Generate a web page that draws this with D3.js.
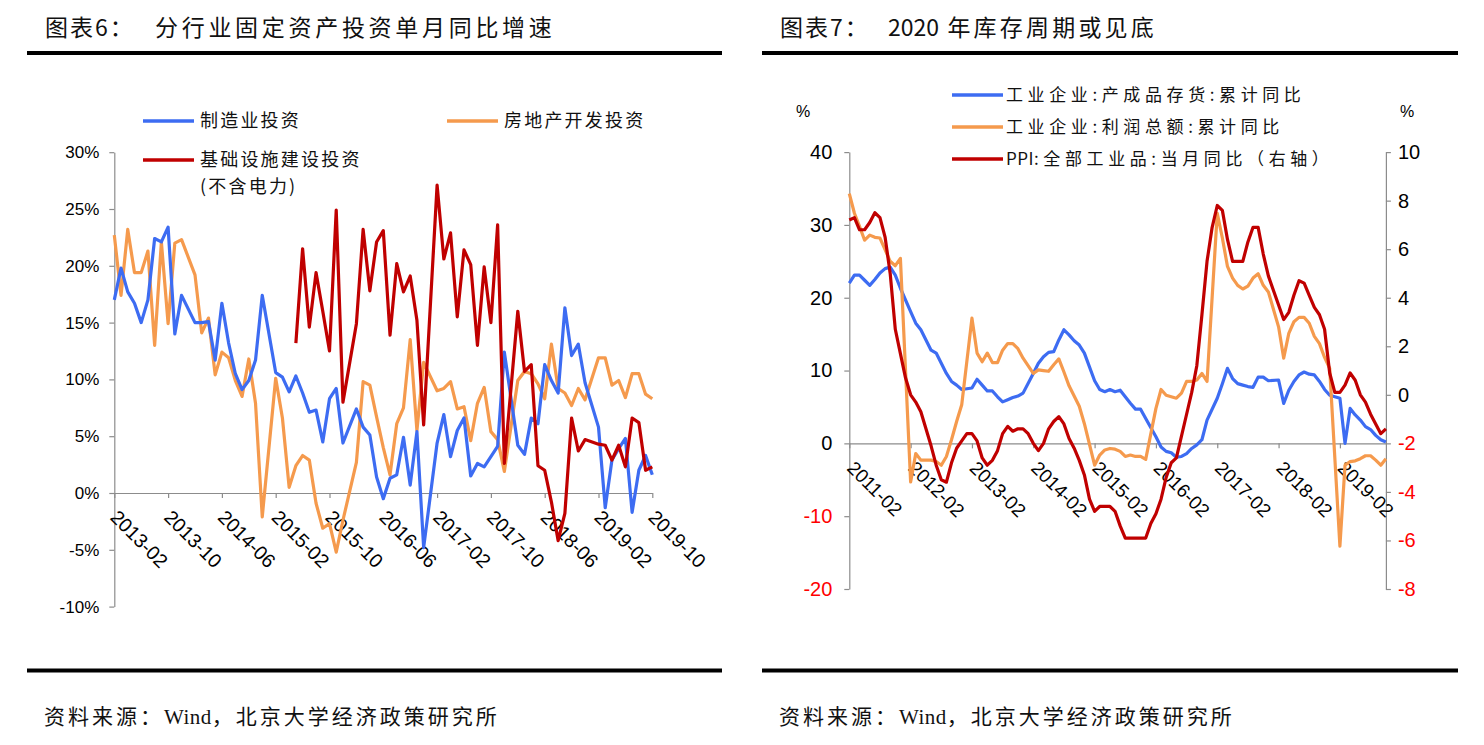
<!DOCTYPE html>
<html><head><meta charset="utf-8">
<script src="https://cdn.jsdelivr.net/npm/d3@7"></script>
<style>
body{margin:0;background:#fff;}
svg text{font-family:"Liberation Sans",Arial,sans-serif;}
</style></head><body>
<svg id="c" width="1484" height="745"></svg>
<script>
// ---------- DATA ----------
// Left chart: single-month FAI growth, 2013-02 .. 2019-10 (January not published -> null)
const leftStart = "2013-02", leftEnd = "2019-10";
const leftTicks = ["2013-02","2013-10","2014-06","2015-02","2015-10","2016-06","2017-02","2017-10","2018-06","2019-02","2019-10"];
const leftYTicks = [30,25,20,15,10,5,0,-5,-10];
const manufacturing = [
 17.0,19.8,17.7,16.7,15.0,17.0,22.4,22.1,23.4,14.0,17.4,null,
 15.0,15.0,15.1,11.7,16.7,13.2,10.5,9.1,9.9,11.7,17.4,null,
 10.6,10.2,8.9,10.3,8.8,7.1,7.3,4.5,8.3,9.2,4.4,null,
 7.4,5.8,5.1,1.4,-0.5,1.3,1.6,4.9,0.7,5.4,-4.8,null,
 4.4,6.9,3.2,5.5,6.6,1.5,2.6,2.3,3.2,4.1,12.4,null,
 4.2,3.4,6.6,6.1,11.3,9.9,8.8,16.3,12.1,13.1,9.7,null,
 5.8,-1.3,2.9,3.9,4.8,-1.7,2.0,3.3,1.6];
const realEstate = [
 22.7,17.4,23.2,19.4,19.4,21.3,13.0,22.1,14.9,22.0,22.3,null,
 19.2,14.1,15.4,10.4,12.4,11.9,9.9,8.5,11.8,7.9,-2.1,null,
 10.1,6.6,0.5,2.4,3.3,2.9,-0.9,-3.1,-2.7,-5.2,-2.4,null,
 2.7,9.8,9.5,6.7,4.0,1.6,6.1,7.5,13.5,5.5,11.5,null,
 9.0,9.2,9.8,7.4,7.6,4.6,7.9,9.3,5.4,4.7,1.9,null,
 9.9,10.7,10.5,9.6,8.3,13.1,9.2,8.8,7.7,9.2,8.2,null,
 11.9,11.9,9.5,9.9,8.4,10.5,10.5,8.7,8.3];
const infrastructure = [
 null,null,null,null,null,null,null,null,null,null,null,null,
 null,null,null,null,null,null,null,null,null,null,null,null,
 null,null,null,13.2,21.5,14.6,19.4,16.0,12.5,24.9,8.0,null,
 14.9,23.2,17.8,22.1,23.1,13.9,20.2,17.7,19.1,15.2,6.0,null,
 27.1,20.6,22.9,15.5,21.4,20.1,13.0,19.9,15.0,23.6,2.6,null,
 16.0,10.7,11.3,2.4,2.0,-0.8,-4.2,-1.8,6.6,3.7,4.7,null,
 4.3,4.2,2.9,4.2,2.3,6.6,6.2,2.0,2.3];

// Right chart: 2011-02 .. 2019-11
const rightStart = "2011-02", rightEnd = "2019-11";
const rightTicks = ["2011-02","2012-02","2013-02","2014-02","2015-02","2016-02","2017-02","2018-02","2019-02"];
const rightYTicksL = [40,30,20,10,0,-10,-20];
const rightYTicksR = [10,8,6,4,2,0,-2,-4,-6,-8];
const inventory = [
 22.0,23.1,23.1,22.4,21.7,22.5,23.4,24.0,24.2,23.1,21.3,null,
 18.1,16.5,15.6,14.2,12.8,12.4,11.0,9.6,8.5,8.0,7.4,null,
 7.6,8.8,8.0,7.2,7.2,6.4,5.7,6.0,6.3,6.5,6.9,null,
 9.6,11.0,11.9,12.5,12.6,14.2,15.6,14.9,14.1,13.5,12.4,null,
 8.6,7.4,7.1,7.4,7.1,7.3,6.4,5.5,4.7,4.7,3.4,null,
 0.9,-0.5,-1.1,-1.3,-1.9,-1.8,-1.4,-0.7,-0.2,0.5,3.2,null,
 6.2,8.2,10.3,8.9,8.2,8.0,7.8,7.7,9.1,9.1,8.6,null,
 8.7,5.5,7.3,8.5,9.4,9.8,9.5,9.4,8.5,7.4,6.6,null,
 6.2,0.0,4.8,3.9,3.2,2.3,1.9,1.1,0.5,0.2];
const profit = [
 34.3,31.6,29.8,27.9,28.6,28.3,28.2,26.6,25.0,24.4,25.4,null,
 -5.3,-1.4,-2.3,-2.3,-2.3,-2.5,-3.0,-1.8,0.5,3.0,5.3,null,
 17.2,12.4,11.2,12.4,11.1,11.1,12.8,13.7,13.7,13.0,11.7,null,
 9.6,10.1,10.0,9.9,10.8,11.6,9.8,7.9,6.5,5.1,2.7,null,
 -3.0,-1.6,-0.9,-0.7,-0.8,-1.1,-1.8,-1.6,-1.8,-1.8,-2.2,null,
 4.8,7.4,6.6,6.4,6.2,6.9,8.5,8.5,8.7,9.6,8.5,null,
 31.6,28.2,24.3,22.7,21.7,21.2,21.6,22.7,23.3,21.7,20.8,null,
 16.0,11.7,15.1,16.7,17.3,17.3,16.5,14.7,13.7,11.8,10.3,null,
 -14.1,-3.0,-2.5,-2.4,-2.1,-1.7,-1.7,-2.3,-3.0,-2.1];
const ppi = [
 7.2,7.3,6.8,6.8,7.1,7.5,7.3,6.5,5.0,2.7,1.7,0.7,
 0.0,-0.3,-0.7,-1.4,-2.1,-2.9,-3.5,-3.6,-2.8,-2.2,-1.9,-1.6,
 -1.6,-1.9,-2.6,-2.9,-2.7,-2.3,-1.6,-1.3,-1.5,-1.4,-1.4,-1.6,
 -2.0,-2.3,-2.0,-1.4,-1.1,-0.9,-1.2,-1.8,-2.2,-2.7,-3.3,-4.3,
 -4.8,-4.6,-4.6,-4.6,-4.8,-5.4,-5.9,-5.9,-5.9,-5.9,-5.9,-5.3,
 -4.9,-4.3,-3.4,-2.8,-2.6,-1.7,-0.8,0.1,1.2,3.3,5.5,6.9,
 7.8,7.6,6.4,5.5,5.5,5.5,6.3,6.9,6.9,5.8,4.9,4.3,
 3.7,3.1,3.4,4.1,4.7,4.6,4.1,3.6,3.3,2.7,0.9,0.1,
 0.1,0.4,0.9,0.6,0.0,-0.3,-0.8,-1.2,-1.6,-1.4];

// ---------- HELPERS ----------
function monthRange(a,b){
  const out=[]; let [y,m]=a.split("-").map(Number); const [ye,me]=b.split("-").map(Number);
  while(y<ye||(y===ye&&m<=me)){out.push(y+"-"+String(m).padStart(2,"0")); m++; if(m>12){m=1;y++;}}
  return out;
}
const leftMonths = monthRange(leftStart,leftEnd);
const rightMonths = monthRange(rightStart,rightEnd);

const BLUE="#3d6cf2", ORANGE="#f59a4d", RED="#c00000", AXIS="#8c8c8c";
const CJK='"Noto Sans CJK SC","Noto Sans CJK JP",sans-serif';
const svg=d3.select("#c");

function styleAxis(g){
  g.select(".domain").attr("stroke",AXIS).attr("stroke-width",1.2);
  g.selectAll(".tick line").attr("stroke",AXIS).attr("stroke-width",1.2);
}
function drawSeries(g,months,vals,x,y,color){
  const pts=months.map((m,i)=>({m,v:vals[i]})).filter(d=>d.v!==null);
  g.append("path").datum(pts).attr("fill","none").attr("stroke",color)
   .attr("stroke-width",3.2).attr("stroke-linejoin","round")
   .attr("d",d3.line().x(d=>x(d.m)).y(d=>y(d.v)));
}
function rotLabels(g,a,b){
  g.selectAll(".tick text").attr("transform","rotate(45)").attr("x",a).attr("y",b)
   .attr("dy",0).style("text-anchor","start");
}

// ---------- FRAME (titles, rules, sources) ----------
function frame(x0,x1,titleA,titleParts,titleBx){
  svg.append("text").attr("x",x0+18).attr("y",36).style("font-family",CJK).style("font-size","23px")
    .style("letter-spacing","2px").attr("fill","#111").text(titleA);
  const t=svg.append("text").attr("x",titleBx).attr("y",36).style("font-family",CJK).style("font-size","23px")
    .attr("fill","#111");
  titleParts.forEach(p=>t.append("tspan").style("letter-spacing",p.ls+"px").text(p.s));
  svg.append("rect").attr("x",x0).attr("y",51).attr("width",x1-x0).attr("height",4).attr("fill","#000");
  svg.append("rect").attr("x",x0).attr("y",668.5).attr("width",x1-x0).attr("height",4).attr("fill","#000");
  const s=svg.append("text").attr("x",x0+17).attr("y",724)
    .style("font-family",'"Liberation Serif","Noto Sans CJK SC",serif').style("font-size","21px")
    .attr("fill","#111");
  [["资料来源：",3],["Wind",0.5],["，北京大学经济政策研究所",3]].forEach(p=>
    s.append("tspan").style("letter-spacing",p[1]+"px").text(p[0]));
}
frame(27,722,"图表6：",[{s:"分行业固定资产投资单月同比增速",ls:3.7}],155);
frame(762,1458,"图表7：",[{s:"2020",ls:0},{s:" 年库存周期或见底",ls:3.2}],888);

// ---------- LEFT CHART ----------
{
  const x=d3.scalePoint().domain(leftMonths).range([114.3,652.3]);
  const y=d3.scaleLinear().domain([-10,30]).range([606.6,152.2]);
  const g=svg.append("g");
  const ya=g.append("g").attr("transform","translate(114.3,0)")
    .call(d3.axisLeft(y).tickValues(leftYTicks).tickSize(5).tickSizeOuter(0).tickPadding(10).tickFormat(d=>d+"%"));
  styleAxis(ya);
  ya.selectAll(".tick text").style("font-size","17px").attr("fill","#000");
  const xa=g.append("g").attr("transform",`translate(0,${y(0)})`)
    .call(d3.axisBottom(x).tickValues(leftTicks).tickSize(5).tickSizeOuter(0));
  styleAxis(xa);
  xa.selectAll(".tick text").style("font-size","19.5px").attr("fill","#000");
  rotLabels(xa,14,22);
  drawSeries(g,leftMonths,realEstate,x,y,ORANGE);
  drawSeries(g,leftMonths,manufacturing,x,y,BLUE);
  drawSeries(g,leftMonths,infrastructure,x,y,RED);
  // legend
  const leg=[{t:"制造业投资",c:BLUE,x:143,y:121},{t:"房地产开发投资",c:ORANGE,x:447,y:121},
             {t:"基础设施建设投资",c:RED,x:143,y:160}];
  leg.forEach(d=>{
    g.append("line").attr("x1",d.x).attr("x2",d.x+51).attr("y1",d.y).attr("y2",d.y)
      .attr("stroke",d.c).attr("stroke-width",3.5);
    g.append("text").attr("x",d.x+57).attr("y",d.y).attr("dy","0.35em").style("font-family",CJK)
      .style("font-size","18px").style("letter-spacing","2.2px").attr("fill","#111").text(d.t);
  });
  g.append("text").attr("x",200).attr("y",187).attr("dy","0.35em").style("font-family",CJK)
    .style("font-size","18px").style("letter-spacing","2.2px").attr("fill","#111").text("(不含电力)");
}

// ---------- RIGHT CHART ----------
{
  const x=d3.scalePoint().domain(rightMonths).range([849.3,1385.9]);
  const yL=d3.scaleLinear().domain([-20,40]).range([589,152.1]);
  const yR=d3.scaleLinear().domain([-8,10]).range([589,152.1]);
  const g=svg.append("g");
  const la=g.append("g").attr("transform","translate(849.3,0)")
    .call(d3.axisLeft(yL).tickValues(rightYTicksL).tickSize(5).tickSizeOuter(0).tickPadding(12));
  styleAxis(la);
  la.selectAll(".tick text").style("font-size","20px").attr("fill",d=>d<0?"#ff0000":"#000")
    .text(d=>d<0?"-"+Math.abs(d):d);
  const ra=g.append("g").attr("transform","translate(1385.9,0)")
    .call(d3.axisRight(yR).tickValues(rightYTicksR).tickSize(5).tickSizeOuter(0).tickPadding(7));
  styleAxis(ra);
  ra.selectAll(".tick text").style("font-size","20px").attr("fill",d=>d<0?"#ff0000":"#000")
    .text(d=>d<0?"-"+Math.abs(d):d);
  const xa=g.append("g").attr("transform",`translate(0,${yL(0)})`)
    .call(d3.axisBottom(x).tickValues(rightTicks).tickSize(5).tickSizeOuter(0));
  styleAxis(xa);
  xa.selectAll(".tick text").style("font-size","19px").attr("fill","#000");
  rotLabels(xa,15.5,21);
  g.append("text").attr("x",803).attr("y",117).attr("text-anchor","middle").style("font-size","16px").text("%");
  g.append("text").attr("x",1407).attr("y",117).attr("text-anchor","middle").style("font-size","16px").text("%");
  drawSeries(g,rightMonths,inventory,x,yL,BLUE);
  drawSeries(g,rightMonths,profit,x,yL,ORANGE);
  drawSeries(g,rightMonths,ppi,x,yR,RED);
  const leg=[{p:[["工业企业:产成品存货:累计同比",4.6]],c:BLUE,y:95},
             {p:[["工业企业:利润总额:累计同比",4.6]],c:ORANGE,y:127},
             {p:[["PPI",0.5],[":全部工业品:当月同比（右轴）",4.6]],c:RED,y:159}];
  leg.forEach(d=>{
    g.append("line").attr("x1",952).attr("x2",1003).attr("y1",d.y).attr("y2",d.y)
      .attr("stroke",d.c).attr("stroke-width",3.5);
    const t=g.append("text").attr("x",1006).attr("y",d.y).attr("dy","0.35em").style("font-family",CJK)
      .style("font-size","17px").attr("fill","#111");
    d.p.forEach(p=>t.append("tspan").style("letter-spacing",p[1]+"px").text(p[0]));
  });
}
</script></body></html>
